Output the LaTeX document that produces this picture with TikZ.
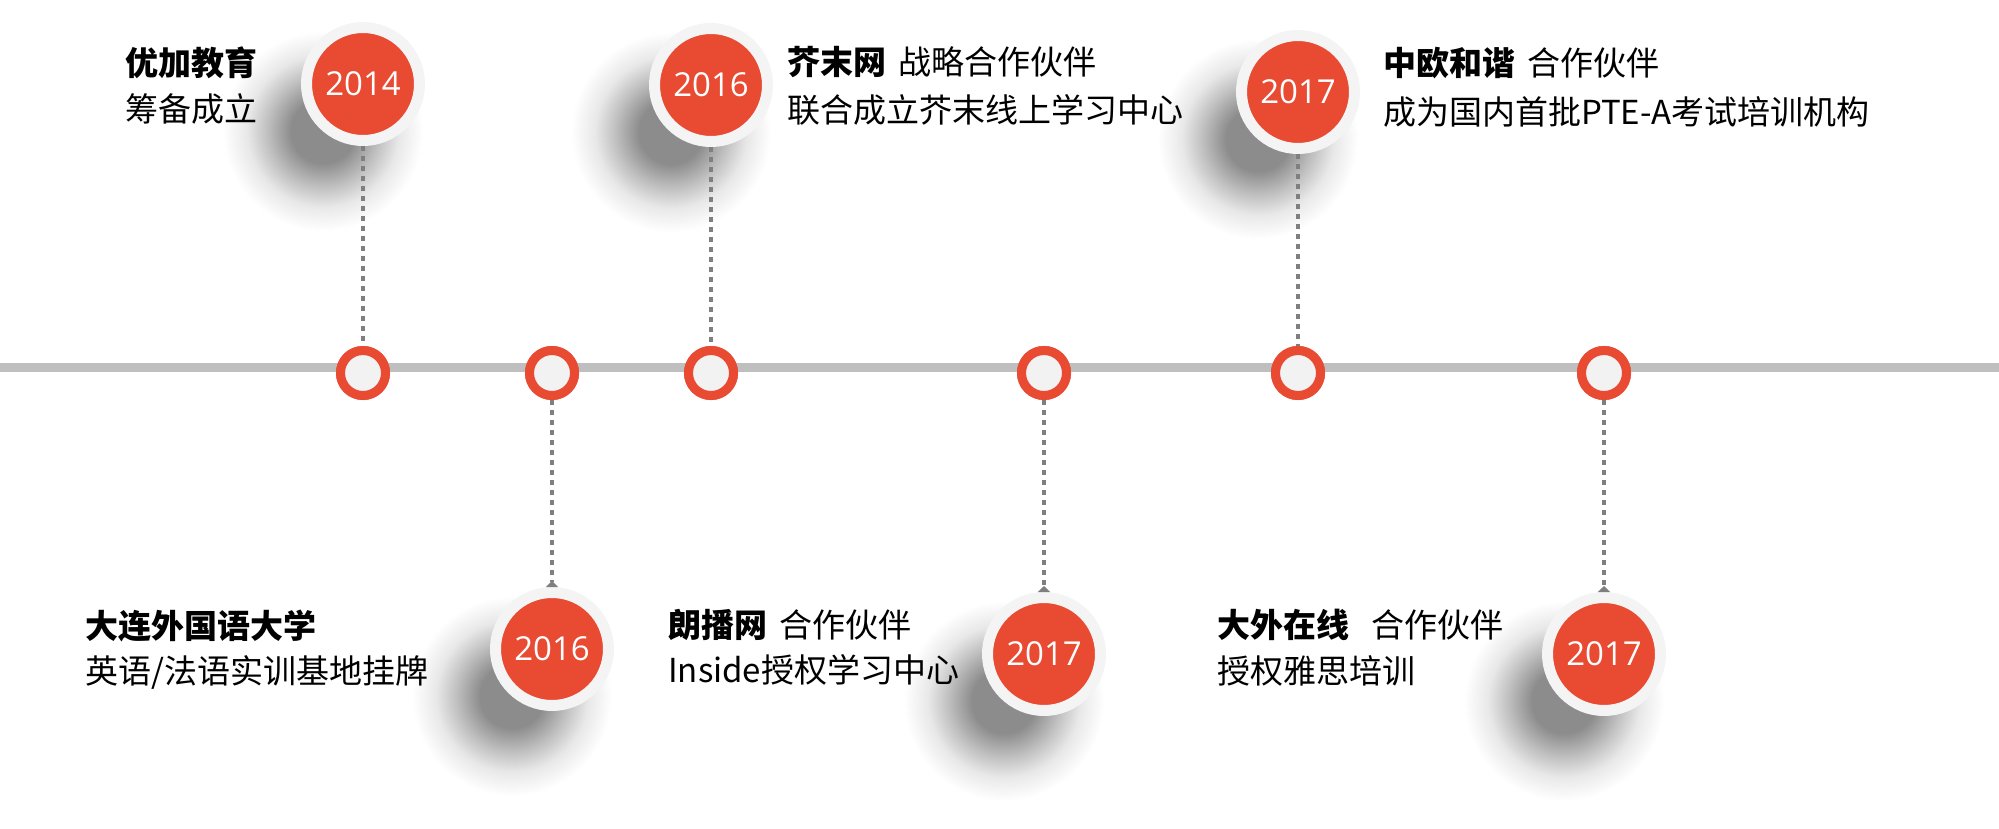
\documentclass[tikz,border=0pt]{standalone}
\usepackage{fontspec}
\setmainfont{Noto Sans CJK SC}
\newfontfamily\yearfont{Open Sans}
\usetikzlibrary{arrows.meta}
\definecolor{tlred}{RGB}{232,74,50}
\definecolor{tlgray}{RGB}{191,191,191}
\definecolor{dotgray}{RGB}{127,127,127}
\definecolor{ringfill}{RGB}{242,242,242}
\definecolor{bigring}{RGB}{244,244,244}
\definecolor{shA}{RGB}{140,140,140}
\definecolor{shB}{RGB}{192,192,192}
\definecolor{shC}{RGB}{232,232,232}
\definecolor{shD}{RGB}{255,255,255}
\pgfdeclareradialshading{cshadow}{\pgfpoint{0bp}{0bp}}{color(0bp)=(shA); color(8bp)=(shA); color(14bp)=(shB); color(19bp)=(shC); color(25bp)=(shD); color(50bp)=(shD)}
\tikzset{
  bigyear/.style={circle, inner sep=0pt, minimum size=113pt, draw=bigring, line width=11pt, fill=tlred,
    text=white, font=\yearfont\fontsize{33}{36}\selectfont},
  dotnode/.style={circle, inner sep=0pt, minimum size=45pt, draw=tlred, line width=9pt, fill=ringfill},
  dotline/.style={draw=dotgray, line width=4.5pt, dash pattern=on 5pt off 5pt},
  caption/.style={anchor=base west, inner sep=0pt, font=\fontsize{33}{40}\selectfont, text=black},
  shadowdisk/.style={shading=cshadow}
}
\begin{document}
\begin{tikzpicture}[x=1pt,y=-1pt]
\useasboundingbox (0,0) rectangle (1999,829);
% shadows
\foreach \cx/\cy in {363/84, 711/85, 1298/92, 552/649, 1044/654, 1604/654}{
  \shade[shadowdisk] (\cx-40,\cy+47) circle (100pt);
}
% timeline
\draw[tlgray, line width=9pt] (0,367.5) -- (1999,367.5);
% nodes
\node[dotnode] (s1) at (363,373) {};
\node[dotnode] (s2) at (552,373) {};
\node[dotnode] (s3) at (711,373) {};
\node[dotnode] (s4) at (1044,373) {};
\node[dotnode] (s5) at (1298,373) {};
\node[dotnode] (s6) at (1604,373) {};
\node[bigyear] (b1) at (363,84) {2014};
\node[bigyear] (b2) at (552,649) {2016};
\node[bigyear] (b3) at (711,85) {2016};
\node[bigyear] (b4) at (1044,654) {2017};
\node[bigyear] (b5) at (1298,92) {2017};
\node[bigyear] (b6) at (1604,654) {2017};
% connectors
\draw[dotline] (b1) -- (s1);
\draw[dotline] (b3) -- (s3);
\draw[dotline] (b5) -- (s5);
\draw[dotline, -{Triangle[reversed, width=12pt, length=6pt]}] (s2) -- (b2);
\draw[dotline, -{Triangle[reversed, width=12pt, length=6pt]}] (s4) -- (b4);
\draw[dotline, -{Triangle[reversed, width=12pt, length=6pt]}] (s6) -- (b6);
% redraw small circles over line ends
\node[dotnode] at (s1) {};
\node[dotnode] at (s2) {};
\node[dotnode] at (s3) {};
\node[dotnode] at (s4) {};
\node[dotnode] at (s5) {};
\node[dotnode] at (s6) {};
% captions
\node[caption] (t1a) at (125,76) {\bfseries 优加教育};
\node[caption] (t1b) at (125,122) {筹备成立};
\node[caption] (t3a) at (787,75) {{\bfseries 芥末网}\hspace{12pt}战略合作伙伴};
\node[caption] (t3b) at (787,123) {联合成立芥末线上学习中心};
\node[caption] (t5a) at (1383,76) {{\bfseries 中欧和谐}\hspace{12pt}合作伙伴};
\node[caption] (t5b) at (1383,125) {成为国内首批PTE-A考试培训机构};
\node[caption] (t2a) at (85,638) {\bfseries 大连外国语大学};
\node[caption] (t2b) at (85,683) {英语/法语实训基地挂牌};
\node[caption] (t4a) at (668,637) {{\bfseries 朗播网}\hspace{12pt}合作伙伴};
\node[caption] (t4b) at (668,682) {Inside授权学习中心};
\node[caption] (t6a) at (1217,637) {{\bfseries 大外在线}\hspace{22pt}合作伙伴};
\node[caption] (t6b) at (1217,683) {授权雅思培训};
\end{tikzpicture}
\end{document}
